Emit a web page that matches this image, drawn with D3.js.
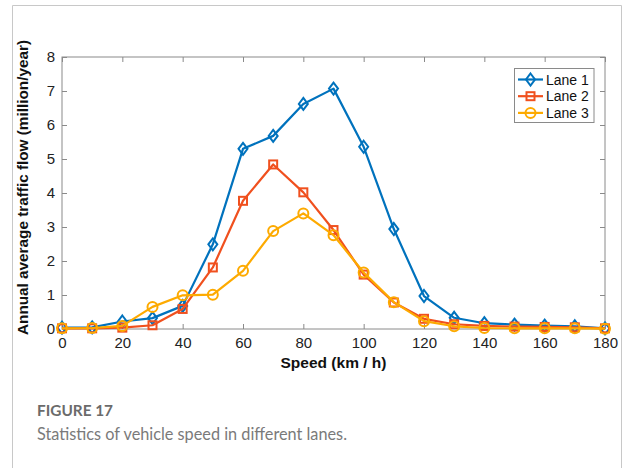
<!DOCTYPE html>
<html><head><meta charset="utf-8">
<script src="https://cdn.jsdelivr.net/npm/d3@7"></script>
<style>
html,body{margin:0;padding:0;background:#fff;}
svg{display:block;}
</style></head>
<body>
<svg id="chart" width="625" height="468"></svg>
<script>
const speeds = [0,10,20,30,40,50,60,70,80,90,100,110,120,130,140,150,160,170,180];
const lane1 = [0.04,0.05,0.22,0.32,0.68,2.49,5.3,5.68,6.62,7.07,5.36,2.94,0.97,0.33,0.17,0.13,0.1,0.08,0.02];
const lane2 = [0.02,0.02,0.04,0.11,0.59,1.81,3.77,4.84,4.02,2.91,1.6,0.78,0.3,0.14,0.09,0.07,0.06,0.05,0.02];
const lane3 = [0.02,0.03,0.09,0.65,0.99,1.01,1.71,2.88,3.4,2.76,1.66,0.79,0.23,0.08,0.03,0.02,0.02,0.02,0.01];
const seriesNames = ["Lane 1","Lane 2","Lane 3"];
const xTicks = [0,20,40,60,80,100,120,140,160,180];
const yTicks = [0,1,2,3,4,5,6,7,8];

const colors = ["#0072BD","#F0501E","#FDAA00"];
const markers = ["diamond","square","circle"];
const series = [lane1,lane2,lane3].map((v,i)=>({name:seriesNames[i],values:v,color:colors[i],marker:markers[i]}));

const svg = d3.select("#chart");
// outer frame
svg.append("path").attr("d","M12.5,468 V5.5 H621.5 V468").attr("fill","none").attr("stroke","#c8c8c8").attr("stroke-width",1);

const L=62, R=605, T=57, B=329;
const x = d3.scaleLinear().domain([0,180]).range([L,R]);
const y = d3.scaleLinear().domain([0,8]).range([B,T]);

const axisColor="#8a8a8a";
const g = svg.append("g");
g.append("rect").attr("x",L).attr("y",T).attr("width",R-L).attr("height",B-T).attr("fill","none").attr("stroke",axisColor).attr("stroke-width",1);

const font = "'Liberation Sans', Arial, Helvetica, sans-serif";
const xAxis = g.append("g").attr("transform",`translate(0,${B})`).call(d3.axisBottom(x).tickValues(xTicks).tickSize(-5).tickPadding(8));
const xAxisTop = g.append("g").attr("transform",`translate(0,${T})`).call(d3.axisTop(x).tickValues(xTicks).tickSize(-5).tickFormat(""));
const yAxis = g.append("g").attr("transform",`translate(${L},0)`).call(d3.axisLeft(y).tickValues(yTicks).tickSize(-5).tickPadding(7));
const yAxisR = g.append("g").attr("transform",`translate(${R},0)`).call(d3.axisRight(y).tickValues(yTicks).tickSize(-5).tickFormat(""));
[xAxis,xAxisTop,yAxis,yAxisR].forEach(a=>{
  a.select(".domain").remove();
  a.selectAll(".tick line").attr("stroke",axisColor);
  a.selectAll("text").attr("fill","#222").style("font-family",font).style("font-size","15px");
});

const line = d3.line().x((d,i)=>x(speeds[i])).y(d=>y(d));
function drawMarker(sel, type, color){
  if(type==="diamond"){
    sel.append("path").attr("d","M0,-6 L4.5,0 L0,6 L-4.5,0 Z");
  } else if(type==="square"){
    sel.append("rect").attr("x",-4).attr("y",-4).attr("width",8).attr("height",8);
  } else {
    sel.append("circle").attr("r",5);
  }
  sel.selectAll("path,rect,circle").attr("fill","none").attr("stroke",color).attr("stroke-width",2);
}
series.forEach(s=>{
  g.append("path").datum(s.values).attr("d",line).attr("fill","none").attr("stroke",s.color).attr("stroke-width",2.2).attr("stroke-linejoin","round");
  s.values.forEach((v,i)=>{
    const m = g.append("g").attr("transform",`translate(${x(speeds[i])},${y(v)})`);
    drawMarker(m,s.marker,s.color);
  });
});

// legend
const lg = svg.append("g");
lg.append("rect").attr("x",514.5).attr("y",68.5).attr("width",79.5).attr("height",54).attr("fill","#fff").attr("stroke","#8a8a8a").attr("stroke-width",1);
series.forEach((s,i)=>{
  const yy = 79.5 + i*16.7;
  lg.append("line").attr("x1",518).attr("x2",543).attr("y1",yy).attr("y2",yy).attr("stroke",s.color).attr("stroke-width",2.2);
  const m = lg.append("g").attr("transform",`translate(530.5,${yy})`);
  drawMarker(m,s.marker,s.color);
  lg.append("text").attr("x",546).attr("y",yy+5).text(s.name).attr("fill","#111").style("font-family",font).style("font-size","14px");
});

// axis labels
svg.append("text").attr("x",333.5).attr("y",368).attr("text-anchor","middle").text("Speed (km / h)")
  .style("font-family",font).style("font-size","15.5px").style("font-weight","bold").attr("fill","#111");
svg.append("text").attr("transform",`translate(27.5,187.5) rotate(-90)`).attr("text-anchor","middle").text("Annual average traffic flow (million/year)")
  .style("font-family",font).style("font-size","15.3px").style("font-weight","bold").attr("fill","#111");

// caption
svg.append("text").attr("x",37).attr("y",416).text("FIGURE 17").style("font-family","Lato, 'Open Sans', sans-serif").style("font-size","15.5px").style("font-weight","bold").attr("fill","#6b6b6b")
  .attr("textLength",76).attr("lengthAdjust","spacingAndGlyphs");
svg.append("text").attr("x",37).attr("y",440).text("Statistics of vehicle speed in different lanes.").style("font-family","Lato, 'Open Sans', sans-serif").style("font-size","16.3px").attr("fill","#7a7a7a")
  .attr("textLength",310).attr("lengthAdjust","spacingAndGlyphs");
</script>
</body></html>
